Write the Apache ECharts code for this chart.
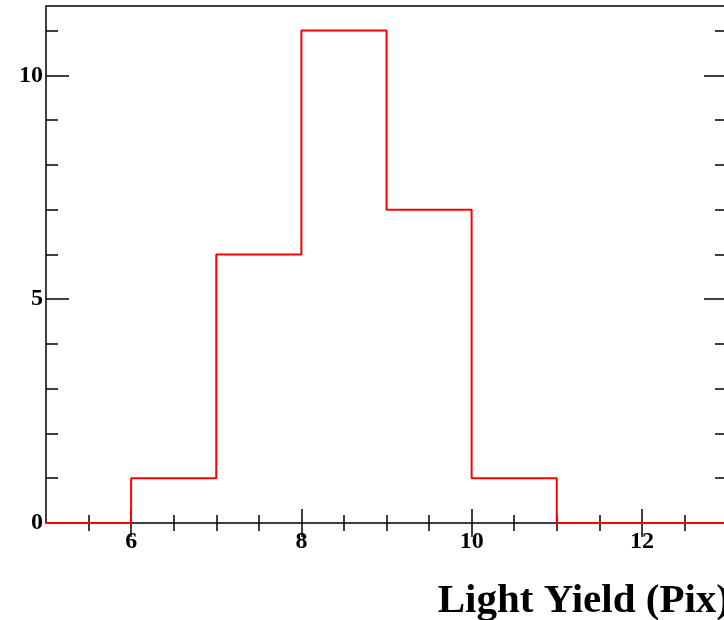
<!DOCTYPE html>
<html>
<head>
<meta charset="utf-8">
<script src="https://cdn.jsdelivr.net/npm/echarts@6/dist/echarts.min.js"></script>
<style>html,body{margin:0;padding:0;background:#fff}#c{width:724px;height:620px}</style>
</head>
<body>
<div id="c"></div>
<script>
// Histogram data: lower bin edges and counts
const binLowEdges = [5, 6, 7, 8, 9, 10, 11, 12];
const binWidth = 1;
const counts = [0, 1, 6, 11, 7, 1, 0, 0];
// Axis ticks
const xMajorTicks = [6, 8, 10, 12];
const xMinorTicks = [5.5, 6.5, 7, 7.5, 8.5, 9, 9.5, 10.5, 11, 11.5, 12.5];
const yMajorTicks = [0, 5, 10];
const yMinorTicks = [1, 2, 3, 4, 6, 7, 8, 9, 11];
const xTitle = 'Light Yield (Pix)';

const X_MIN = 5, X_MAX = 13, Y_MIN = 0, Y_MAX = 11.55;
const FONT = 'Liberation Serif';

const stepData = binLowEdges.map((x, i) => [x, counts[i]]);
stepData.push([binLowEdges[binLowEdges.length - 1] + binWidth, counts[counts.length - 1]]);

function xAx(pos, ticks, len, labels) {
  return {
    type: 'value', position: pos, min: X_MIN, max: X_MAX,
    axisLine: { show: false },
    splitLine: { show: false },
    axisTick: { show: true, inside: true, length: len, customValues: ticks,
      lineStyle: { color: '#000', width: 1.5 } },
    axisLabel: labels ? { show: true, customValues: ticks, margin: 7,
      fontFamily: FONT, fontWeight: 'bold', fontSize: 24, color: '#000' } : { show: false }
  };
}
function yAx(pos, ticks, len, labels) {
  return {
    type: 'value', position: pos, min: Y_MIN, max: Y_MAX,
    axisLine: { show: false },
    splitLine: { show: false },
    axisTick: { show: true, inside: true, length: len, customValues: ticks,
      lineStyle: { color: '#000', width: 1.5 } },
    axisLabel: labels ? { show: true, customValues: ticks, margin: 3,
      fontFamily: FONT, fontWeight: 'bold', fontSize: 24, color: '#000' } : { show: false }
  };
}

const chart = echarts.init(document.getElementById('c'), null, { renderer: 'canvas' });
chart.setOption({
  animation: false,
  backgroundColor: '#fff',
  grid: { left: 46, top: 6, width: 681, height: 517, show: true,
    outerBoundsMode: 'none', containLabel: false,
    borderColor: '#000', borderWidth: 1.5, backgroundColor: 'transparent' },
  xAxis: [
    xAx('bottom', xMajorTicks, 14, true),
    xAx('bottom', xMinorTicks, 8, false),
    xAx('top', xMajorTicks, 14, false),
    xAx('top', xMinorTicks, 8, false)
  ],
  yAxis: [
    yAx('left', yMajorTicks, 23, true),
    yAx('left', yMinorTicks, 12, false),
    yAx('right', yMajorTicks, 23, false),
    yAx('right', yMinorTicks, 12, false)
  ],
  series: [{
    type: 'line', xAxisIndex: 0, yAxisIndex: 0,
    step: 'end', data: stepData, symbol: 'none', clip: false,
    lineStyle: { color: '#ff0000', width: 2 }
  }],
  graphic: [{
    type: 'text', right: -6, top: 581,
    style: { text: xTitle, font: 'bold 41px "Liberation Serif"', fill: '#000' }
  }]
});
</script>
</body>
</html>
